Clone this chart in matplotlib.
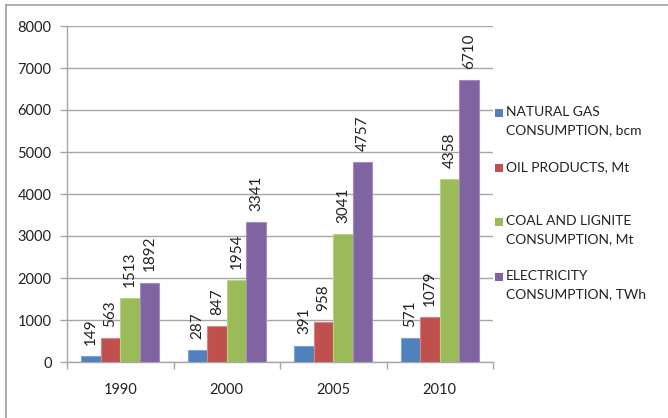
import matplotlib
matplotlib.use("Agg")
import matplotlib.pyplot as plt
from matplotlib.patches import Rectangle
import numpy as np

years = ["1990", "2000", "2005", "2010"]
series_names = ["NATURAL GAS\nCONSUMPTION, bcm", "OIL PRODUCTS, Mt",
                "COAL AND LIGNITE\nCONSUMPTION, Mt", "ELECTRICITY\nCONSUMPTION, TWh"]
natural_gas = [149, 287, 391, 571]
oil_products = [563, 847, 958, 1079]
coal_lignite = [1513, 1954, 3041, 4358]
electricity = [1892, 3341, 4757, 6710]
y_ticks = [0, 1000, 2000, 3000, 4000, 5000, 6000, 7000, 8000]

colors = ["#4F81BD", "#C0504D", "#9BBB59", "#8064A2"]
edges = ["#7FA3D3", "#D98583", "#B8D28A", "#A58CC0"]

plt.rcParams['font.family'] = ['Lato', 'DejaVu Sans']

W, H = 668, 418
fig = plt.figure(figsize=(W/100, H/100), dpi=100)
ax = fig.add_axes([67/W, 1-362/H, (493-67)/W, (362-26)/H])

data = [natural_gas, oil_products, coal_lignite, electricity]
x = np.arange(len(years))
bw = 0.183
for i, (vals, c, ec) in enumerate(zip(data, colors, edges)):
    pos = x + (i - 1.5) * bw
    ax.bar(pos, vals, width=bw, color=c, edgecolor=ec, linewidth=0.8, zorder=3)
    for p, v in zip(pos, vals):
        ax.annotate(str(v), xy=(p, v), xytext=(0, 8), textcoords='offset points',
                    rotation=90, ha='center', va='bottom',
                    fontsize=11, color='#222222', zorder=4)

ax.set_xlim(-0.5, len(years) - 0.5)
ax.set_ylim(0, 8000)
ax.set_yticks(y_ticks)
ax.set_yticklabels([str(t) for t in y_ticks], fontsize=10.5, color='#222222')
ax.yaxis.grid(True, color='#A6A6A6', linewidth=1.0, zorder=0)
ax.set_xticks(x)
ax.set_xticklabels(years, fontsize=10.5, color='#222222')
ax.tick_params(axis='x', length=0, pad=15)
ax.set_xticks(np.arange(-0.5, len(years)), minor=True)
ax.tick_params(axis='x', which='minor', length=5, color='#A6A6A6', width=1)
ax.tick_params(axis='y', length=5, color='#A6A6A6', width=1, pad=6)
for s in ['top', 'right']:
    ax.spines[s].set_visible(False)
for s in ['left', 'bottom']:
    ax.spines[s].set_color('#A6A6A6')
    ax.spines[s].set_linewidth(1.0)

# legend drawn entry by entry (Excel-like spacing)
entry_tops = [113, 168, 222, 277]
for name, c, yt in zip(series_names, colors, entry_tops):
    fig.patches.append(Rectangle((495/W, 1-(yt+4)/H), 8/W, 8/H,
                                 transform=fig.transFigure, facecolor=c,
                                 edgecolor='none'))
    fig.text(506/W, 1-(yt-7)/H, name, ha='left', va='top', fontsize=10,
             color='#222222', linespacing=1.65)

# outer frame lines (left and top)
fig.add_artist(plt.Line2D([6/W, 6/W], [0, 1-5/H], transform=fig.transFigure,
                          color='#A0A0A0', linewidth=1.2))
fig.add_artist(plt.Line2D([6/W, 1], [1-5/H, 1-5/H], transform=fig.transFigure,
                          color='#A0A0A0', linewidth=1.2))

fig.savefig("out.png", dpi=100)
